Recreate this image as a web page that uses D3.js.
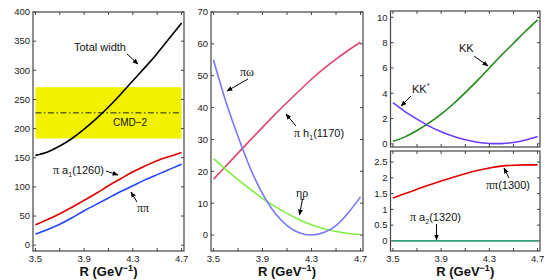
<!DOCTYPE html>
<html><head><meta charset="utf-8">
<script src="https://cdn.jsdelivr.net/npm/d3@7"></script>
<style>body{margin:0;background:#fff}svg{display:block;font-family:"Liberation Sans",Arial,sans-serif}</style>
</head><body>
<svg id="c" width="557" height="280"></svg>
<script>
const R = [3.5,3.6,3.7,3.8,3.9,4.0,4.1,4.2,4.3,4.4,4.5,4.6,4.7];
// Panel 1
const totalWidth = [154,160,170,183,199,217,237,259,282,305,329,355,381];
const piA1 = [35,44,54,65,77,89,102,114,126,136,145,152,159];
const piPi = [19,27,36,47,59,70,81,92,102,112,121,130,139];
const cmd2 = {center:227, low:183, high:271};
// Panel 2
const piOmega = [55,42,31,21,13,7,3,0.7,0,0.8,3,7,12];
const piH1 = [17.5,21.6,25.7,29.8,33.8,37.8,41.6,45.3,48.9,52.2,55.2,58,60.5];
const etaRho = [24,20.6,17.4,14.4,11.5,9,6.8,4.8,3.2,2,1.1,0.5,0.2];
// Panel 3 top
const KK = [0.2,0.55,1.05,1.65,2.35,3.15,4.05,5.0,6.0,7.0,7.95,8.9,9.8];
const KKstar = [3.25,2.55,1.95,1.4,0.95,0.6,0.32,0.13,0.03,0.02,0.1,0.3,0.58];
// Panel 3 bottom
const piPi1300 = [1.36,1.5,1.64,1.77,1.9,2.02,2.13,2.23,2.31,2.37,2.4,2.41,2.41];
const piA2 = [0,0,0,0,0,0,0,0,0,0,0,0,0];
const xTicks = [3.5,3.7,3.9,4.1,4.3,4.5,4.7];
const xTickLabels = [3.5,3.9,4.3,4.7];

const svg = d3.select("#c");
svg.append("defs").append("marker").attr("id","ah").attr("viewBox","0 0 10 10")
  .attr("refX",9).attr("refY",5).attr("markerWidth",6).attr("markerHeight",6)
  .attr("orient","auto").attr("markerUnits","userSpaceOnUse")
  .append("path").attr("d","M0,1L10,5L0,9Z").attr("fill","#000");

function panel(o){
  const x = d3.scaleLinear().domain([3.48,4.72]).range([o.x0,o.x1]);
  const y = d3.scaleLinear().domain(o.yd).range([o.y1,o.y0]);
  const g = svg.append("g");
  o.before && o.before(g,x,y);
  const line = d3.line().x((d,i)=>x(R[i])).y(d=>y(d)).curve(d3.curveNatural);
  o.series.forEach(s=>{
    g.append("path").datum(s.v).attr("d",line).attr("fill","none")
      .attr("stroke",s.c).attr("stroke-width",1.6);
  });
  const fr = g.append("g");
  fr.append("rect").attr("x",o.x0).attr("y",o.y0).attr("width",o.x1-o.x0).attr("height",o.y1-o.y0)
    .attr("fill","none").attr("stroke","#444").attr("stroke-width",1.2);
  const tl=3;
  xTicks.forEach(t=>{
    fr.append("line").attr("x1",x(t)).attr("x2",x(t)).attr("y1",o.y1).attr("y2",o.y1-tl).attr("stroke","#444");
    fr.append("line").attr("x1",x(t)).attr("x2",x(t)).attr("y1",o.y0).attr("y2",o.y0+tl).attr("stroke","#444");
  });
  if(o.xlabels){
    xTickLabels.forEach(t=>{
      fr.append("text").attr("x",x(t)).attr("y",o.y1+11).attr("text-anchor","middle")
        .attr("font-size",9.5).attr("fill","#222").text(t.toFixed(1));
    });
    const tt = fr.append("text").attr("x",(x(3.5)+x(4.7))/2).attr("y",o.y1+25).attr("text-anchor","middle")
      .attr("font-size",13).attr("font-weight","bold").attr("fill","#111");
    tt.append("tspan").text("R (GeV");
    tt.append("tspan").attr("dy",-5).attr("font-size",9).text("−1");
    tt.append("tspan").attr("dy",5).text(")");
  }
  o.yt.forEach(t=>{
    fr.append("line").attr("x1",o.x0).attr("x2",o.x0+tl).attr("y1",y(t)).attr("y2",y(t)).attr("stroke","#444");
    fr.append("line").attr("x1",o.x1).attr("x2",o.x1-tl).attr("y1",y(t)).attr("y2",y(t)).attr("stroke","#444");
    fr.append("text").attr("x",o.x0-3).attr("y",y(t)).attr("dy","0.35em").attr("text-anchor","end")
      .attr("font-size",9.5).attr("fill","#222").text(o.yfmt?o.yfmt(t):t);
  });
  return {x,y,g};
}
const SERIF = "'Liberation Serif','DejaVu Serif',serif";
function label(x,y,greek,txt,sub,rest,size){
  const t = svg.append("text").attr("x",x).attr("y",y).attr("font-size",size||11).attr("fill","#111");
  if(greek) t.append("tspan").attr("font-family",SERIF).attr("font-size",(size||11)+1).text(greek);
  if(txt) t.append("tspan").text(txt);
  if(sub){ t.append("tspan").attr("dy",3).attr("font-size",7).text(sub);
    t.append("tspan").attr("dy",-3).text(rest); }
  return t;
}
function arrow(x1,y1,x2,y2){
  svg.append("line").attr("x1",x1).attr("y1",y1).attr("x2",x2).attr("y2",y2)
    .attr("stroke","#000").attr("stroke-width",1).attr("marker-end","url(#ah)");
}

// Panel 1
panel({x0:33,x1:184,y0:12,y1:251,yd:[-10,400],yt:d3.range(0,401,50),xlabels:true,
  before:(g,x,y)=>{
    g.append("rect").attr("x",x(3.5)).attr("width",x(4.7)-x(3.5))
      .attr("y",y(cmd2.high)).attr("height",y(cmd2.low)-y(cmd2.high)).attr("fill","#f2f200");
    g.append("line").attr("x1",x(3.5)).attr("x2",x(4.7)).attr("y1",y(cmd2.center)).attr("y2",y(cmd2.center))
      .attr("stroke","#222").attr("stroke-width",1).attr("stroke-dasharray","6,2.5,1.5,2.5");
  },
  series:[{v:totalWidth,c:"#000"},{v:piA1,c:"#e00000"},{v:piPi,c:"#2244ff"}]});
label(74,51,null,"Total width");
arrow(127,54,138,64);
label(113,126,null,"CMD−2",null,null,10);
label(53,174,"π"," a","1","(1260)");
arrow(106,171,118,175);
label(137,212,"ππ");
arrow(137,202,131,192);

// Panel 2
panel({x0:211,x1:363,y0:12,y1:251,yd:[-5,70],yt:d3.range(0,71,10),xlabels:true,
  series:[{v:piH1,c:"#e0456e"},{v:etaRho,c:"#80f040"},{v:piOmega,c:"#7878ff"}]});
label(240,76,"πω");
arrow(248,79,227,91);
label(294,137,"π"," h","1","(1170)");
arrow(296,126,286,114);
label(296,197,"ηρ");
arrow(302.5,199,299.5,215);

// Panel 3 top
panel({x0:390.5,x1:540,y0:11,y1:147,yd:[-0.25,10.5],yt:d3.range(0,11,2),xlabels:false,
  series:[{v:KK,c:"#1f8a14"},{v:KKstar,c:"#6a3cff"}]});
label(459,52,null,"KK");
arrow(474,56,488,66);
const ks = label(412,93,null,"KK");
ks.append("tspan").attr("dy",-5).attr("font-size",7).text("*");
arrow(411,96,401,106);

// Panel 3 bottom
panel({x0:390.5,x1:540,y0:151,y1:251,yd:[-0.32,2.85],yt:d3.range(0,2.51,0.5),xlabels:true,
  yfmt:t=>t===0?"0":(t%1===0?String(t):t.toFixed(1)),
  series:[{v:piPi1300,c:"#e00000"},{v:piA2,c:"#35a080"}]});
label(486,189,"ππ","(1300)");
arrow(509,178,504,168);
label(410,221,"π"," a","2","(1320)");
arrow(436.5,224,436.5,240);
</script>
</body></html>
